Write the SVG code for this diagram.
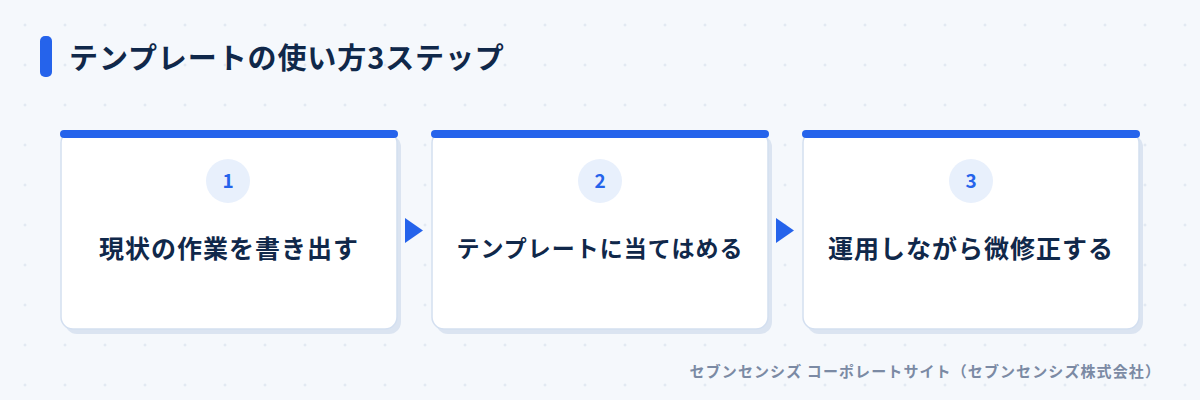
<svg xmlns="http://www.w3.org/2000/svg" width="1200" height="400" viewBox="0 0 1200 400">
<defs>
<pattern id="grid" x="0" y="0" width="40" height="40" patternUnits="userSpaceOnUse">
<path d="M25 23.5v3M23.5 25h3" stroke="#dce4ef" stroke-width="1"/>
</pattern>
<style>
.card{fill:#ffffff;stroke:#d3dff0;stroke-width:1.5}
.shadow{fill:#dbe4f1}
.bar{fill:#2563eb}
.num-bg{fill:#e8f0fc}
.num{font-family:"Noto Sans CJK JP","Noto Sans",sans-serif;font-weight:700;font-size:19px;fill:#2563eb;text-anchor:middle}
.label{font-family:"Noto Sans CJK JP",sans-serif;font-weight:700;font-size:25px;fill:#10284a;text-anchor:middle;letter-spacing:1px}
.label.sm{font-size:23px}
.arrow{fill:#2563eb}
</style>
</defs>
<rect width="1200" height="400" fill="#f5f8fc"/>
<rect width="1200" height="400" fill="url(#grid)"/>
<g id="title">
<rect x="40" y="36" width="12" height="41" rx="5" fill="#2563eb"/>
<text x="69" y="69" font-family="'Noto Sans CJK JP',sans-serif" font-weight="700" font-size="29" fill="#10284a" letter-spacing="0.9">テンプレートの使い方3ステップ</text>
</g>
<g id="connectors">
<path class="arrow" d="M405 218L423 230.5L405 243Z"/>
<path class="arrow" d="M776 218L794 230.5L776 243Z"/>
</g>
<g id="step1">
<rect class="shadow" x="65" y="135" width="336" height="199" rx="12"/>
<rect class="card" x="61" y="131" width="336" height="198" rx="12"/>
<rect class="bar" x="60" y="130" width="338" height="8" rx="4"/>
<circle class="num-bg" cx="228" cy="181" r="22"/>
<text class="num" x="228" y="188">1</text>
<text class="label" x="229" y="258">現状の作業を書き出す</text>
</g>
<g id="step2">
<rect class="shadow" x="436" y="135" width="336" height="199" rx="12"/>
<rect class="card" x="432" y="131" width="336" height="198" rx="12"/>
<rect class="bar" x="431" y="130" width="338" height="8" rx="4"/>
<circle class="num-bg" cx="600" cy="181" r="22"/>
<text class="num" x="600" y="188">2</text>
<text class="label sm" x="600" y="257">テンプレートに当てはめる</text>
</g>
<g id="step3">
<rect class="shadow" x="807" y="135" width="336" height="199" rx="12"/>
<rect class="card" x="803" y="131" width="336" height="198" rx="12"/>
<rect class="bar" x="802" y="130" width="338" height="8" rx="4"/>
<circle class="num-bg" cx="971" cy="181" r="22"/>
<text class="num" x="971" y="188">3</text>
<text class="label" x="971" y="258">運用しながら微修正する</text>
</g>
<text x="1161" y="377" text-anchor="end" font-family="'Noto Sans CJK JP',sans-serif" font-weight="700" font-size="15" fill="#7b8aa4" letter-spacing="1.1">セブンセンシズ コーポレートサイト（セブンセンシズ株式会社）</text>
</svg>
